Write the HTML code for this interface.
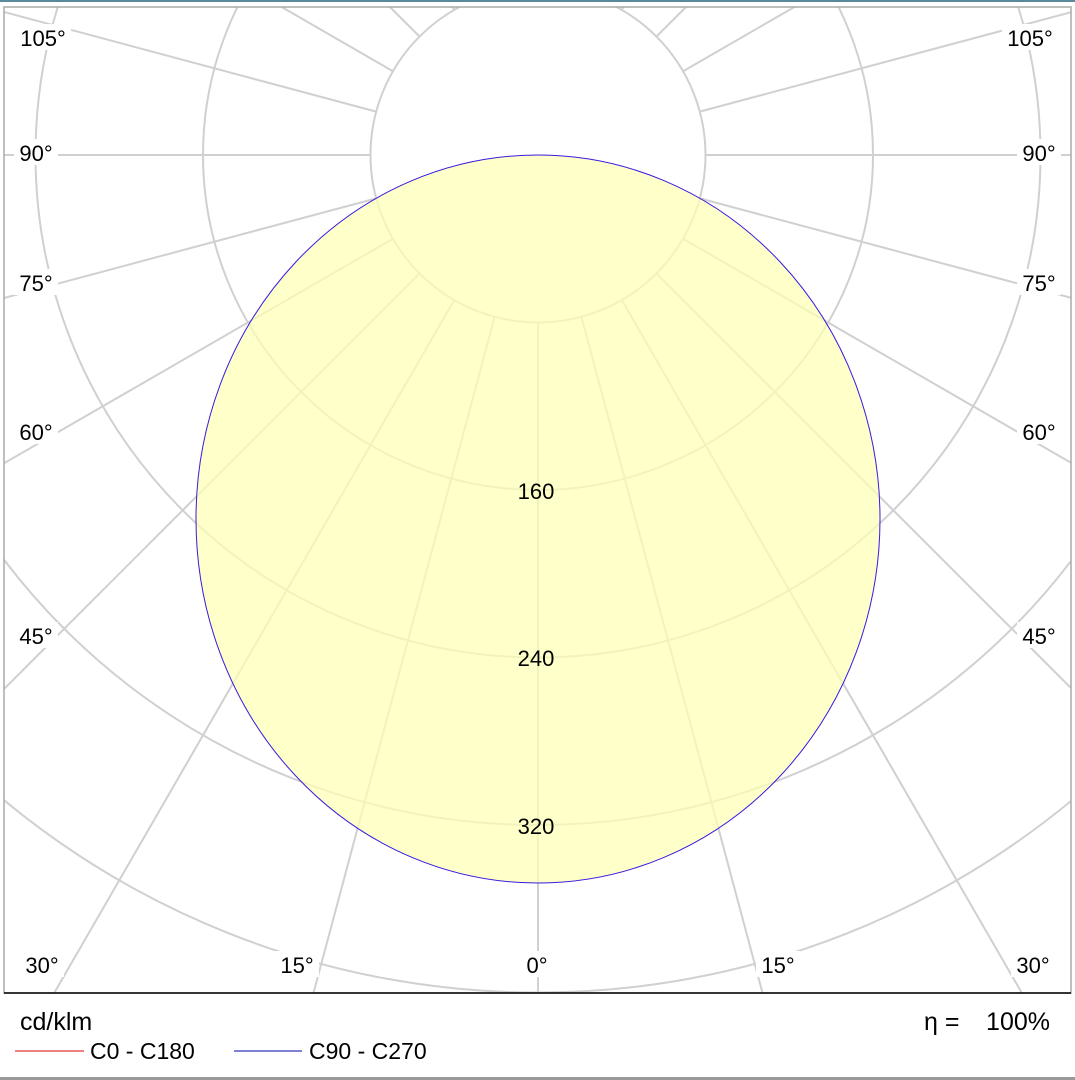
<!DOCTYPE html>
<html><head><meta charset="utf-8"><style>
html,body{margin:0;padding:0;background:#fff;overflow:hidden;width:1075px;height:1080px;}
svg{display:block;overflow:hidden;font-family:"Liberation Sans",Arial,sans-serif;}
</style></head><body>
<svg id="s" width="1075" height="1080" viewBox="0 0 1075 1080" xmlns="http://www.w3.org/2000/svg">
<defs><clipPath id="c"><rect x="4" y="7" width="1067" height="986"/></clipPath></defs>
<rect x="0" y="0" width="1075" height="2" fill="#5a8a9a"/>
<rect x="0" y="1077" width="1075" height="3" fill="#999"/>
<g id="grid" clip-path="url(#c)" stroke="#d0d0d0" stroke-width="2" fill="none"></g>
<ellipse cx="538" cy="519" rx="342" ry="364" fill="#ffffb4" fill-opacity="0.72" stroke="#3a1ae0" stroke-width="1"/>
<g id="labels" font-size="22" fill="#000"></g>
<rect x="4" y="7" width="1067" height="986" fill="none" stroke="#aaa" stroke-width="1.5"/>
<line x1="4" y1="993" x2="1071" y2="993" stroke="#000" stroke-width="1.5"/>
<text x="20" y="1030" font-size="25">cd/klm</text>
<line x1="15" y1="1051" x2="84" y2="1051" stroke="#d00" stroke-width="1"/>
<text x="90" y="1059" font-size="23">C0 - C180</text>
<line x1="234" y1="1051" x2="302" y2="1051" stroke="#00a" stroke-width="1"/>
<text x="309" y="1059" font-size="23">C90 - C270</text>
<text x="924" y="1030" font-size="25">η =</text>
<text x="1050" y="1030" font-size="25" text-anchor="end">100%</text>
</svg>
<script>
var ns="http://www.w3.org/2000/svg",g=document.getElementById('grid'),L=document.getElementById('labels');
var cx=538,cy=155,r=167.5;
function el(p,t,a){var e=document.createElementNS(ns,t);for(var k in a)e.setAttribute(k,a[k]);p.appendChild(e);return e;}
for(var k=1;k<=5;k++)el(g,'circle',{cx:cx,cy:cy,r:r*k});
for(var a=0;a<=180;a+=15){var t=a*Math.PI/180;[1,-1].forEach(function(s){
 var dx=s*Math.sin(t),dy=Math.cos(t),m=1500;
 if(dx>1e-6)m=Math.min(m,(1071-cx)/dx);if(dx<-1e-6)m=Math.min(m,(4-cx)/dx);
 if(dy>1e-6)m=Math.min(m,(993-cy)/dy);if(dy<-1e-6)m=Math.min(m,(7-cy)/dy);
 el(g,'line',{x1:cx+dx*r,y1:cy+dy*r,x2:cx+dx*m,y2:cy+dy*m});});}
function lab(x,y,txt){var w=txt.length*12+8;el(L,'rect',{x:x-w/2,y:y-14,width:w,height:26,fill:'#fff'});var e=el(L,'text',{x:x,y:y+8,'text-anchor':'middle'});e.textContent=txt;}
[[43,38,'105°'],[36,153,'90°'],[36,283,'75°'],[36,432,'60°'],[36,636,'45°'],[42,965,'30°'],[297,965,'15°'],[537,965,'0°']].forEach(function(p){lab(p[0],p[1],p[2]);if(p[2]!='0°')lab(1075-p[0]-(p[2]=='105°'?2:0),p[1],p[2]);});
[[491,'160'],[658,'240'],[826,'320']].forEach(function(p){var e=el(L,'text',{x:536,y:p[0]+8,'text-anchor':'middle'});e.textContent=p[1];});
</script>
</body></html>
